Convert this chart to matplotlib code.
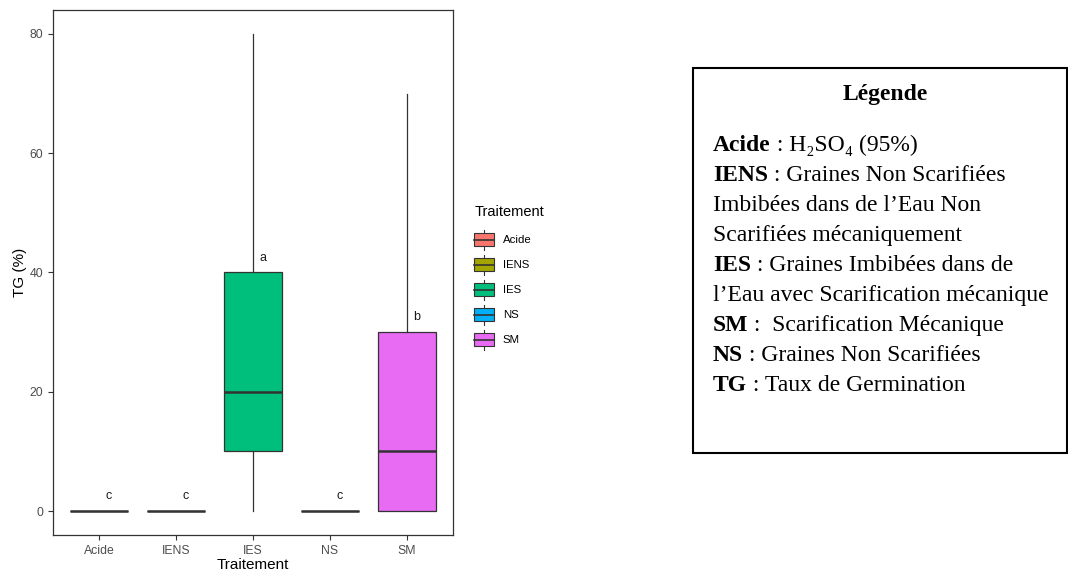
import matplotlib
matplotlib.use('Agg')
import matplotlib.pyplot as plt
from matplotlib.patches import Rectangle, Patch
from matplotlib.lines import Line2D
from matplotlib.legend_handler import HandlerBase

# boxplot summary (min, q1, median, q3, max)
traitements = ['Acide', 'IENS', 'IES', 'NS', 'SM']
tg_min = [0, 0, 0, 0, 0]
tg_q1 = [0, 0, 10, 0, 0]
tg_med = [0, 0, 20, 0, 10]
tg_q3 = [0, 0, 40, 0, 30]
tg_max = [0, 0, 80, 0, 70]
lettres = ['c', 'c', 'a', 'c', 'b']
couleurs = ['#F8766D', '#A3A500', '#00BF7D', '#00B0F6', '#E76BF3']

legende_titre = 'Légende'
legende_lignes = [
    ('Acide', ' : H\u2082SO\u2084 (95%)'),
    ('IENS', ' : Graines Non Scarifiées'),
    ('', 'Imbibées dans de l\u2019Eau Non'),
    ('', 'Scarifiées mécaniquement'),
    ('IES', ' : Graines Imbibées dans de'),
    ('', 'l\u2019Eau avec Scarification mécanique'),
    ('SM', ' :  Scarification Mécanique'),
    ('NS', ' : Graines Non Scarifiées'),
    ('TG', ' : Taux de Germination'),
]

plt.rcParams['font.family'] = ['Liberation Sans', 'DejaVu Sans']

EDGE = '#333333'


class BoxKey(HandlerBase):
    # petit glyphe de boxplot comme dans ggplot
    def create_artists(self, legend, orig_handle, xdescent, ydescent,
                       width, height, fontsize, trans):
        x0, y0 = -xdescent, -ydescent
        stub = height * 0.17
        rect = Rectangle((x0, y0 + stub), width, height - 2 * stub,
                         facecolor=orig_handle.get_facecolor(), edgecolor=EDGE,
                         lw=0.8, transform=trans)
        mid = Line2D([x0, x0 + width], [y0 + height / 2] * 2, color=EDGE,
                     lw=1.2, transform=trans)
        top = Line2D([x0 + width / 2] * 2, [y0 + height - stub, y0 + height],
                     color=EDGE, lw=0.8, transform=trans)
        bot = Line2D([x0 + width / 2] * 2, [y0, y0 + stub],
                     color=EDGE, lw=0.8, transform=trans)
        return [bot, top, rect, mid]


fig = plt.figure(figsize=(10.68, 5.77), dpi=100)
ax = fig.add_axes([0.0496, 0.0728, 0.3745, 0.9099])

stats = []
for i, t in enumerate(traitements):
    stats.append({'label': t, 'whislo': tg_min[i], 'q1': tg_q1[i],
                  'med': tg_med[i], 'q3': tg_q3[i], 'whishi': tg_max[i],
                  'fliers': []})

pos = list(range(1, len(traitements) + 1))
bp = ax.bxp(stats, positions=pos, widths=0.75, patch_artist=True,
            showcaps=False,
            boxprops=dict(edgecolor=EDGE, linewidth=0.9),
            medianprops=dict(color=EDGE, linewidth=1.8),
            whiskerprops=dict(color=EDGE, linewidth=0.9))
for patch, c in zip(bp['boxes'], couleurs):
    patch.set_facecolor(c)

for i, l in enumerate(lettres):
    ax.text(pos[i] + 0.13, tg_q3[i] + 2.5, l, ha='center', va='center',
            fontsize=9, color='#1a1a1a')

ax.set_xlim(0.4, 5.6)
ax.set_ylim(-4, 84)
ax.set_yticks([0, 20, 40, 60, 80])
ax.set_xticks(pos)
ax.set_xticklabels(traitements)
ax.tick_params(colors='#333333', labelcolor='#4D4D4D', labelsize=8.8,
               length=3.5, width=0.8)
for s in ax.spines.values():
    s.set_color('#333333')
    s.set_linewidth(0.9)
ax.set_xlabel('Traitement', fontsize=11, labelpad=1)
ax.set_ylabel('TG (%)', fontsize=11, labelpad=2)

handles = [Patch(facecolor=c, label=t) for t, c in zip(traitements, couleurs)]
leg = fig.legend(handles=handles, loc='upper left',
                 bbox_to_anchor=(0.444, 0.645), frameon=False,
                 title='Traitement', title_fontsize=10.5, fontsize=8.2,
                 handler_map={Patch: BoxKey()}, handlelength=1.75,
                 handleheight=2.3, labelspacing=0.45, handletextpad=0.75,
                 alignment='left', borderaxespad=0, borderpad=0)
leg._legend_box.sep = 8

# encadré de légende à droite
fig.patches.append(Rectangle((693 / 1068, 1 - 453 / 577), 374 / 1068,
                             385 / 577, transform=fig.transFigure,
                             fill=False, edgecolor='black', lw=1.5))
serif = ['Liberation Serif', 'DejaVu Serif']
fig.text(885 / 1068, 1 - 95 / 577, legende_titre, ha='center', va='center',
         fontsize=17, fontweight='bold', family=serif)
y = 1 - 156 / 577
for gras, reste in legende_lignes:
    if gras:
        t = fig.text(713 / 1068, y, gras, ha='left', va='bottom', fontsize=17,
                     fontweight='bold', family=serif)
        ax.annotate(reste, xy=(1, 0), xycoords=t, ha='left', va='bottom',
                    fontsize=17, family=serif, annotation_clip=False)
    else:
        fig.text(713 / 1068, y, reste, ha='left', va='bottom', fontsize=17,
                 family=serif)
    y -= 30 / 577

fig.savefig('out.png', dpi=100)
